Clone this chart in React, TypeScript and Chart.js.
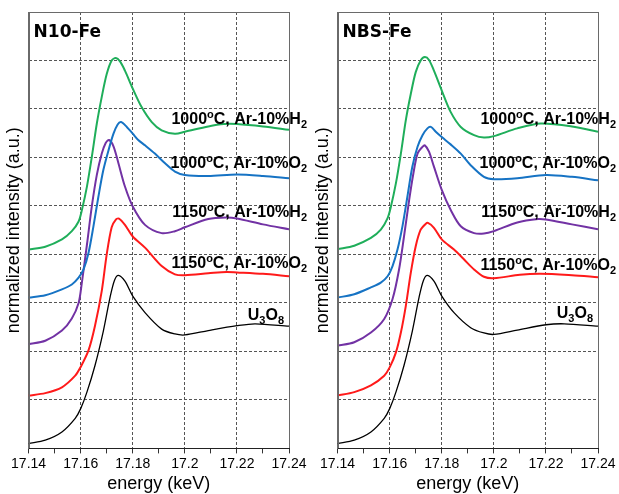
import React, { useEffect, useRef } from 'react';
import { Chart, registerables } from 'chart.js';

Chart.register(...registerables);

// ---------- axis values ----------
const X_MIN = 17.14;
const X_MAX = 17.24;
const X_TICKS = [17.14, 17.15, 17.16, 17.17, 17.18, 17.19, 17.2, 17.21, 17.22, 17.23, 17.24];
const X_TICK_LABELS = ['17.14', '', '17.16', '', '17.18', '', '17.2', '', '17.22', '', '17.24'];
const Y_MIN = 0;
const Y_MAX = 9;
const Y_TICKS = [0, 1, 2, 3, 4, 5, 6, 7, 8, 9];

const X_TITLE = 'energy (keV)';
const Y_TITLE = 'normalized intensity (a.u.)';
const PANEL_TITLES = ['N10-Fe', 'NBS-Fe'];

// ---------- series (energy keV, offset normalized intensity) ----------
// N10-Fe panel
const N10_1000_H2: [number, number][] = [
  [17.14, 4.10], [17.1464, 4.16], [17.1528, 4.31], [17.1566, 4.48], [17.1592, 4.68], [17.1604, 4.90],
  [17.1624, 5.40], [17.1643, 6.02], [17.1662, 6.70], [17.1681, 7.25], [17.17, 7.72], [17.1719, 8.00],
  [17.1735, 8.05], [17.1751, 7.98], [17.177, 7.79], [17.18, 7.42], [17.1834, 7.04], [17.1873, 6.73],
  [17.1911, 6.56], [17.1962, 6.49], [17.2, 6.53], [17.209, 6.64], [17.215, 6.69], [17.22, 6.69],
  [17.23, 6.64], [17.24, 6.57],
];
const N10_1000_O2: [number, number][] = [
  [17.14, 3.11], [17.1464, 3.16], [17.1528, 3.28], [17.1566, 3.38], [17.1592, 3.52], [17.1611, 3.69],
  [17.163, 4.03], [17.1649, 4.58], [17.1668, 5.19], [17.1687, 5.74], [17.1707, 6.15], [17.1726, 6.49],
  [17.1742, 6.68], [17.1755, 6.73], [17.1777, 6.63], [17.18, 6.49], [17.1821, 6.36], [17.1847, 6.25],
  [17.1885, 6.08], [17.1924, 5.88], [17.1962, 5.71], [17.2, 5.64], [17.209, 5.62], [17.22, 5.65],
  [17.23, 5.62], [17.24, 5.57],
];
const N10_1150_H2: [number, number][] = [
  [17.14, 2.15], [17.1464, 2.22], [17.1528, 2.43], [17.1566, 2.68], [17.1592, 3.00], [17.1604, 3.40],
  [17.1624, 4.20], [17.1643, 5.00], [17.1662, 5.64], [17.1681, 6.08], [17.1696, 6.30], [17.1709, 6.36],
  [17.1726, 6.23], [17.1745, 5.88], [17.177, 5.40], [17.18, 4.99], [17.1847, 4.61], [17.1911, 4.44],
  [17.1962, 4.48], [17.2, 4.56], [17.209, 4.73], [17.216, 4.76], [17.22, 4.74], [17.23, 4.62],
  [17.24, 4.52],
];
const N10_1150_O2: [number, number][] = [
  [17.14, 1.09], [17.1464, 1.14], [17.1528, 1.26], [17.1579, 1.50], [17.16, 1.68], [17.163, 2.02],
  [17.1655, 2.53], [17.1681, 3.25], [17.17, 4.00], [17.1719, 4.56], [17.1735, 4.72], [17.1747, 4.74],
  [17.177, 4.61], [17.18, 4.37], [17.1847, 4.14], [17.1911, 3.76], [17.1962, 3.59], [17.2, 3.57],
  [17.209, 3.61], [17.216, 3.64], [17.22, 3.63], [17.23, 3.60], [17.24, 3.55],
];
const N10_U3O8: [number, number][] = [
  [17.14, 0.10], [17.1464, 0.17], [17.1528, 0.34], [17.1579, 0.62], [17.16, 0.82], [17.1624, 1.16],
  [17.1655, 1.71], [17.1687, 2.42], [17.1713, 3.12], [17.173, 3.47], [17.1745, 3.57], [17.177, 3.45],
  [17.18, 3.14], [17.1847, 2.80], [17.1911, 2.46], [17.1962, 2.36], [17.2, 2.34], [17.209, 2.43],
  [17.22, 2.53], [17.227, 2.57], [17.24, 2.52],
];

// NBS-Fe panel
const NBS_1000_H2: [number, number][] = [
  [17.14, 4.11], [17.1464, 4.18], [17.1528, 4.34], [17.1566, 4.51], [17.1592, 4.75], [17.1604, 4.97],
  [17.1624, 5.47], [17.1643, 6.08], [17.1662, 6.77], [17.1681, 7.31], [17.17, 7.76], [17.1719, 8.00],
  [17.1735, 8.07], [17.1751, 8.01], [17.177, 7.79], [17.18, 7.38], [17.1834, 6.94], [17.1873, 6.63],
  [17.1924, 6.46], [17.1962, 6.41], [17.2, 6.44], [17.209, 6.60], [17.218, 6.70], [17.23, 6.64],
  [17.24, 6.53],
];
const NBS_1000_O2: [number, number][] = [
  [17.14, 3.11], [17.1464, 3.18], [17.1528, 3.32], [17.1566, 3.42], [17.1592, 3.55], [17.1611, 3.76],
  [17.163, 4.10], [17.1649, 4.58], [17.1668, 5.19], [17.1687, 5.81], [17.1707, 6.22], [17.1726, 6.46],
  [17.1745, 6.60], [17.1758, 6.63], [17.1777, 6.53], [17.18, 6.42], [17.1834, 6.27], [17.1873, 6.08],
  [17.1911, 5.84], [17.1962, 5.60], [17.2, 5.55], [17.209, 5.57], [17.22, 5.64], [17.23, 5.60],
  [17.24, 5.53],
];
const NBS_1150_H2: [number, number][] = [
  [17.14, 2.12], [17.1464, 2.19], [17.1528, 2.39], [17.1579, 2.67], [17.1611, 3.08], [17.1636, 3.69],
  [17.1655, 4.37], [17.1675, 5.13], [17.1691, 5.67], [17.1707, 6.08], [17.1726, 6.22], [17.1735, 6.25],
  [17.1751, 6.12], [17.177, 5.81], [17.18, 5.33], [17.1834, 4.92], [17.1873, 4.58], [17.1924, 4.44],
  [17.1962, 4.43], [17.2, 4.48], [17.209, 4.66], [17.217, 4.73], [17.22, 4.72], [17.23, 4.62],
  [17.24, 4.52],
];
const NBS_1150_O2: [number, number][] = [
  [17.14, 1.09], [17.1464, 1.16], [17.1528, 1.30], [17.1579, 1.50], [17.16, 1.67], [17.1624, 1.98],
  [17.1643, 2.39], [17.1662, 2.94], [17.1681, 3.62], [17.17, 4.17], [17.1719, 4.51], [17.1738, 4.63],
  [17.1747, 4.65], [17.177, 4.55], [17.18, 4.31], [17.1847, 4.10], [17.1885, 3.90], [17.1924, 3.69],
  [17.1962, 3.54], [17.2, 3.51], [17.21, 3.58], [17.218, 3.60], [17.23, 3.57], [17.24, 3.53],
];
const NBS_U3O8: [number, number][] = [
  [17.14, 0.10], [17.1464, 0.17], [17.1528, 0.34], [17.1579, 0.62], [17.16, 0.82], [17.1624, 1.16],
  [17.1655, 1.71], [17.1687, 2.42], [17.1713, 3.12], [17.173, 3.47], [17.1745, 3.57], [17.177, 3.45],
  [17.18, 3.14], [17.1847, 2.80], [17.1911, 2.49], [17.1962, 2.38], [17.2, 2.35], [17.209, 2.44],
  [17.22, 2.55], [17.227, 2.57], [17.24, 2.52],
];

// ---------- label texts (parts: normal / sup / sub) ----------
type Part = [string, 'n' | 'sup' | 'sub'];
const LABEL_1000_H2: Part[] = [['1000', 'n'], ['o', 'sup'], ['C, Ar-10%H', 'n'], ['2', 'sub']];
const LABEL_1000_O2: Part[] = [['1000', 'n'], ['o', 'sup'], ['C, Ar-10%O', 'n'], ['2', 'sub']];
const LABEL_1150_H2: Part[] = [['1150', 'n'], ['o', 'sup'], ['C, Ar-10%H', 'n'], ['2', 'sub']];
const LABEL_1150_O2: Part[] = [['1150', 'n'], ['o', 'sup'], ['C, Ar-10%O', 'n'], ['2', 'sub']];
const LABEL_U3O8: Part[] = [['U', 'n'], ['3', 'sub'], ['O', 'n'], ['8', 'sub']];
const LABELS = [LABEL_1000_H2, LABEL_1000_O2, LABEL_1150_H2, LABEL_1150_O2, LABEL_U3O8];

// label vertical anchors (data units) for each panel
const LABEL_Y_N10 = [6.82, 5.90, 4.89, 3.84, 2.77];
const LABEL_Y_NBS = [6.82, 5.90, 4.89, 3.80, 2.81];

// ---------- styles ----------
const COLORS = ['#1fae5a', '#1673c4', '#7232a4', '#ff1a1a', '#000000'];
const WIDTHS = [2, 2, 2, 2, 1.3];
const LABEL_RIGHT_OFFSET = [18, 18, 18, 18, -5];
const SANS = '"Liberation Sans", Arial, Helvetica, sans-serif';
const TITLE_FONT = '"DejaVu Sans", Verdana, sans-serif';

const N10_SERIES = [N10_1000_H2, N10_1000_O2, N10_1150_H2, N10_1150_O2, N10_U3O8];
const NBS_SERIES = [NBS_1000_H2, NBS_1000_O2, NBS_1150_H2, NBS_1150_O2, NBS_U3O8];

function isMajor(v: number) {
  return Math.round(v * 100) % 2 === 0;
}

function makePlugin(title: string, labelY: number[]) {
  return {
    id: 'panelDecor',
    afterDraw(chart: any) {
      const { ctx, chartArea } = chart;
      const ys = chart.scales.y;
      const { left, right, top, bottom } = chartArea;
      ctx.save();
      // frame
      ctx.setLineDash([]);
      ctx.lineWidth = 1;
      ctx.strokeStyle = '#6a6a6a';
      ctx.strokeRect(Math.round(left) + 0.5, Math.round(top) + 0.5, Math.round(right - left), Math.round(bottom - top));
      ctx.strokeStyle = '#222';
      ctx.beginPath();
      ctx.moveTo(Math.round(left), Math.round(bottom) + 0.5);
      ctx.lineTo(Math.round(right) + 1, Math.round(bottom) + 0.5);
      ctx.stroke();

      // panel title
      ctx.fillStyle = '#000';
      ctx.font = `bold 17px ${TITLE_FONT}`;
      ctx.textAlign = 'left';
      ctx.textBaseline = 'alphabetic';
      ctx.fillText(title, left + 5, top + 25);

      // series labels
      const fonts: Record<string, string> = {
        n: `bold 16px ${SANS}`,
        sup: `bold 11px ${SANS}`,
        sub: `bold 11px ${SANS}`,
      };
      const shift: Record<string, number> = { n: 0, sup: -6, sub: 4 };
      LABELS.forEach((parts, i) => {
        let total = 0;
        parts.forEach(([t, k]) => {
          ctx.font = fonts[k];
          total += ctx.measureText(t).width;
        });
        let x = right + LABEL_RIGHT_OFFSET[i] - total;
        const base = ys.getPixelForValue(labelY[i]) + 6;
        parts.forEach(([t, k]) => {
          ctx.font = fonts[k];
          ctx.fillText(t, x, base + shift[k]);
          x += ctx.measureText(t).width;
        });
      });
      ctx.restore();
    },
  };
}

function Panel({ title, series, labelY }: { title: string; series: [number, number][][]; labelY: number[] }) {
  const ref = useRef<HTMLCanvasElement | null>(null);
  useEffect(() => {
    if (!ref.current) return;
    const chart = new Chart(ref.current, {
      type: 'line',
      data: {
        datasets: series.map((s, i) => ({
          data: s.map(([x, y]) => ({ x, y })),
          borderColor: COLORS[i],
          borderWidth: WIDTHS[i],
          pointRadius: 0,
          fill: false,
          tension: 0.3,
        })),
      },
      options: {
        responsive: false,
        maintainAspectRatio: false,
        animation: false,
        layout: { padding: { top: 12, right: 21, left: 0, bottom: 0 } },
        plugins: { legend: { display: false }, tooltip: { enabled: false } },
        scales: {
          x: {
            type: 'linear',
            min: X_MIN,
            max: X_MAX,
            afterBuildTicks: (axis: any) => {
              axis.ticks = X_TICKS.map((v) => ({ value: v }));
            },
            ticks: {
              autoSkip: false,
              maxRotation: 0,
              padding: 2,
              color: '#000',
              font: { family: SANS, size: 14 },
              callback: (_v: any, i: number) => X_TICK_LABELS[i],
            },
            grid: {
              drawTicks: true,
              tickLength: 5,
              tickColor: '#333',
              lineWidth: 1,
              color: (c: any) => (c.tick && isMajor(c.tick.value) ? '#555' : 'rgba(0,0,0,0)'),
            },
            border: { display: true, color: '#222', dash: [3, 2] },
            title: {
              display: true,
              text: X_TITLE,
              color: '#000',
              font: { family: SANS, size: 18, lineHeight: 1.1 },
              padding: { top: 0, bottom: 0 },
            },
          },
          y: {
            type: 'linear',
            min: Y_MIN,
            max: Y_MAX,
            afterBuildTicks: (axis: any) => {
              axis.ticks = Y_TICKS.map((v) => ({ value: v }));
            },
            ticks: { display: false },
            grid: { drawTicks: false, color: '#555', lineWidth: 1 },
            border: { display: true, color: '#6a6a6a', dash: [3, 2] },
            title: {
              display: true,
              text: Y_TITLE,
              color: '#000',
              font: { family: SANS, size: 18, lineHeight: 1.2 },
              padding: { top: 3, bottom: 4 },
            },
          },
        },
      },
      plugins: [makePlugin(title, labelY)],
    } as any);
    return () => chart.destroy();
  }, [title, series, labelY]);
  return <canvas ref={ref} width={310} height={494} style={{ width: 310, height: 494, display: 'block' }} />;
}

export default function App() {
  return (
    <div style={{ position: 'absolute', left: 0, top: 0, width: 619, height: 494, background: '#fff' }}>
      <div style={{ position: 'absolute', left: 0, top: 0 }}>
        <Panel title={PANEL_TITLES[0]} series={N10_SERIES} labelY={LABEL_Y_N10} />
      </div>
      <div style={{ position: 'absolute', left: 309, top: 0 }}>
        <Panel title={PANEL_TITLES[1]} series={NBS_SERIES} labelY={LABEL_Y_NBS} />
      </div>
    </div>
  );
}
